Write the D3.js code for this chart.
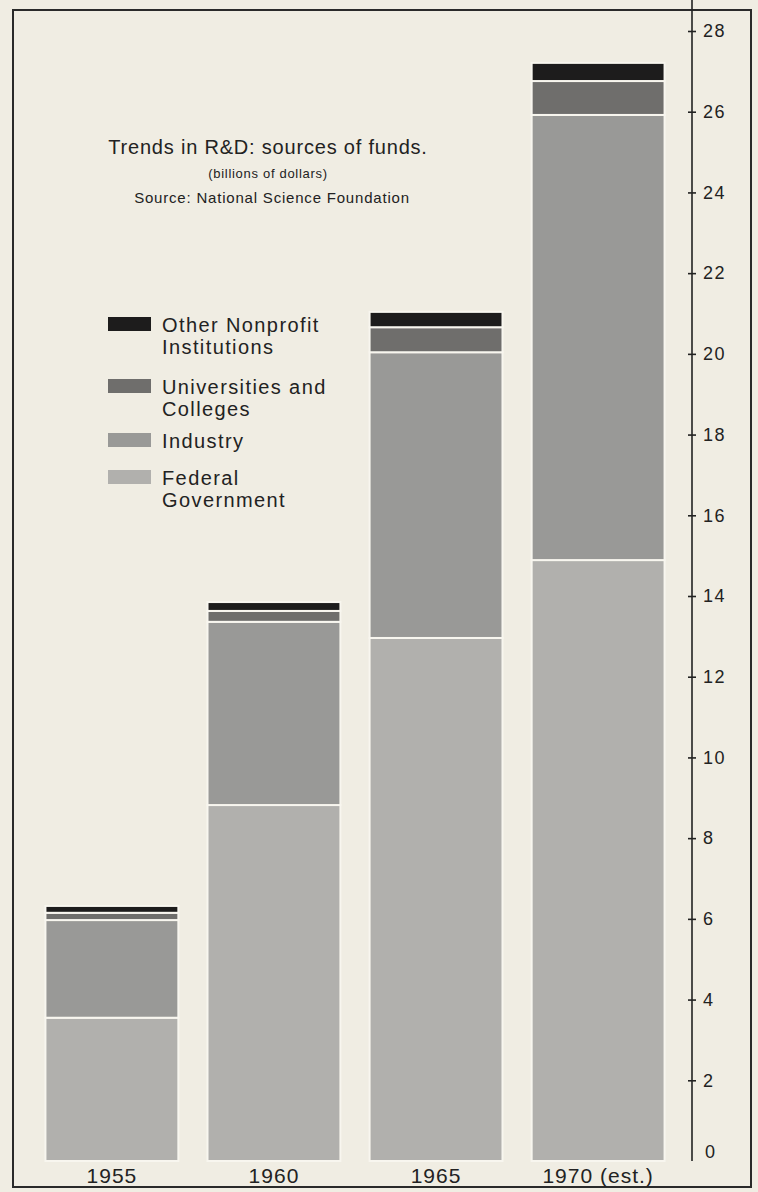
<!DOCTYPE html>
<html>
<head>
<meta charset="utf-8">
<script src="https://cdnjs.cloudflare.com/ajax/libs/d3/7.8.5/d3.min.js"></script>
<style>
	body { margin: 0; background: #f0ede3; }
	svg { display: block; font-family: "Liberation Sans", Arial, sans-serif; }
	.axis text { font-size: 18px; letter-spacing: 1.5px; fill: #222; }
	.axis path, .axis line { stroke: #222; stroke-width: 1.6; }
</style>
</head>
<body>
<div id="chart"></div>
<script>
// data (billions of dollars)
var years      = ['1955', '1960', '1965', '1970 (est.)'];
var federal    = [3.55, 8.82, 12.96, 14.89];
var industry   = [2.42, 4.54, 7.08, 11.03];
var univ       = [0.18, 0.27, 0.62, 0.84];
var nonprofit  = [0.17, 0.22, 0.38, 0.45];
var seriesKeys   = ['federal', 'industry', 'univ', 'nonprofit'];
var seriesLabels = [['Federal', 'Government'], ['Industry'], ['Universities and', 'Colleges'], ['Other Nonprofit', 'Institutions']];
var seriesColors = ['#b1b0ad', '#999997', '#6f6e6c', '#1d1c1c'];
var yTicks = [0, 2, 4, 6, 8, 10, 12, 14, 16, 18, 20, 22, 24, 26, 28];

function RDChart(config) {
	var me = this;
	me.width  = config.width;
	me.height = config.height;
	me.parentNode = d3.select('#' + config.parentId);
	me.svg = me.parentNode.append('svg')
		.attr('width', me.width)
		.attr('height', me.height);
	me.prepareData();
	me.draw();
}

RDChart.prototype.prepareData = function() {
	var me = this;
	me.rows = years.map(function(y, i) {
		return {year: y, federal: federal[i], industry: industry[i], univ: univ[i], nonprofit: nonprofit[i]};
	});
	me.stacked = d3.stack().keys(seriesKeys)(me.rows);
}

RDChart.prototype.draw = function() {
	var me = this;

	me.xScale = d3.scaleBand()
		.domain(years)
		.range([20, 690])
		.paddingInner(0.18)
		.paddingOuter(0.157);

	me.yScale = d3.scaleLinear()
		.domain([0, 28])
		.range([1161, 31]);

	// frame
	me.svg.append('rect')
		.attr('x', 13).attr('y', 10)
		.attr('width', 738).attr('height', 1177)
		.attr('fill', 'none')
		.attr('stroke', '#2a2a2a')
		.attr('stroke-width', 2);

	me.drawBars();
	me.drawAxis();
	me.drawTitle();
	me.drawLegend();
}

RDChart.prototype.drawBars = function() {
	var me = this;
	var layer = me.svg.append('g')
		.attr('class', 'bars')
		.selectAll('g')
		.data(me.stacked)
		.enter().append('g')
		.attr('fill', function(d, i) { return seriesColors[i]; });

	layer.selectAll('rect')
		.data(function(d) { return d; })
		.enter().append('rect')
		.attr('x', function(d) { return me.xScale(d.data.year); })
		.attr('width', me.xScale.bandwidth())
		.attr('y', function(d) { return me.yScale(d[1]); })
		.attr('height', function(d) { return me.yScale(d[0]) - me.yScale(d[1]); })
		.attr('stroke', '#f8f6ef')
		.attr('stroke-width', 2);

	me.svg.append('g')
		.selectAll('text')
		.data(years)
		.enter().append('text')
		.attr('x', function(d) { return me.xScale(d) + me.xScale.bandwidth() / 2; })
		.attr('y', 1183)
		.attr('text-anchor', 'middle')
		.style('font-size', '21px')
		.style('letter-spacing', '1px')
		.attr('fill', '#222')
		.text(function(d) { return d; });
}

RDChart.prototype.drawAxis = function() {
	var me = this;
	var axisX = 692;
	var axis = d3.axisRight(me.yScale)
		.tickValues(yTicks)
		.tickSize(4)
		.tickPadding(7)
		.tickSizeOuter(0);

	var g = me.svg.append('g')
		.attr('class', 'axis')
		.attr('transform', 'translate(' + axisX + ',0)')
		.call(axis);

	g.select('.domain').remove();
	g.append('line')
		.attr('x1', 0).attr('x2', 0)
		.attr('y1', 0).attr('y2', me.yScale(0));
	g.selectAll('.tick line').attr('x1', -4);
	// zero has no tick mark and sits a little higher
	g.selectAll('.tick').filter(function(d) { return d === 0; })
		.each(function() {
			d3.select(this).select('line').remove();
			d3.select(this).select('text').attr('dy', '-0.2em').attr('x', 13);
		});
}

RDChart.prototype.drawTitle = function() {
	var me = this;
	var cx = 268;
	me.svg.append('text')
		.attr('x', cx).attr('y', 154)
		.attr('text-anchor', 'middle')
		.style('font-size', '20px')
		.style('letter-spacing', '0.8px')
		.attr('fill', '#222')
		.text('Trends in R&D: sources of funds.');
	me.svg.append('text')
		.attr('x', cx).attr('y', 178)
		.attr('text-anchor', 'middle')
		.style('font-size', '13px')
		.style('letter-spacing', '0.7px')
		.attr('fill', '#222')
		.text('(billions of dollars)');
	me.svg.append('text')
		.attr('x', cx + 4).attr('y', 203)
		.attr('text-anchor', 'middle')
		.style('font-size', '15px')
		.style('letter-spacing', '0.8px')
		.attr('fill', '#222')
		.text('Source: National Science Foundation');
}

RDChart.prototype.drawLegend = function() {
	var me = this;
	var tops = [470, 433, 379, 317];
	var idx = [3, 2, 1, 0];

	var item = me.svg.append('g')
		.attr('class', 'legend')
		.selectAll('g')
		.data(idx)
		.enter().append('g')
		.attr('transform', function(d) { return 'translate(108,' + tops[d] + ')'; });

	item.append('rect')
		.attr('width', 43).attr('height', 14)
		.attr('fill', function(d) { return seriesColors[d]; });

	item.selectAll('text')
		.data(function(d) { return seriesLabels[d]; })
		.enter().append('text')
		.attr('x', 54)
		.attr('y', function(d, i) { return 15 + i * 22; })
		.style('font-size', '20px')
		.style('letter-spacing', '1.4px')
		.attr('fill', '#222')
		.text(function(d) { return d; });
}

new RDChart({parentId: 'chart', width: 758, height: 1192});
</script>
</body>
</html>
